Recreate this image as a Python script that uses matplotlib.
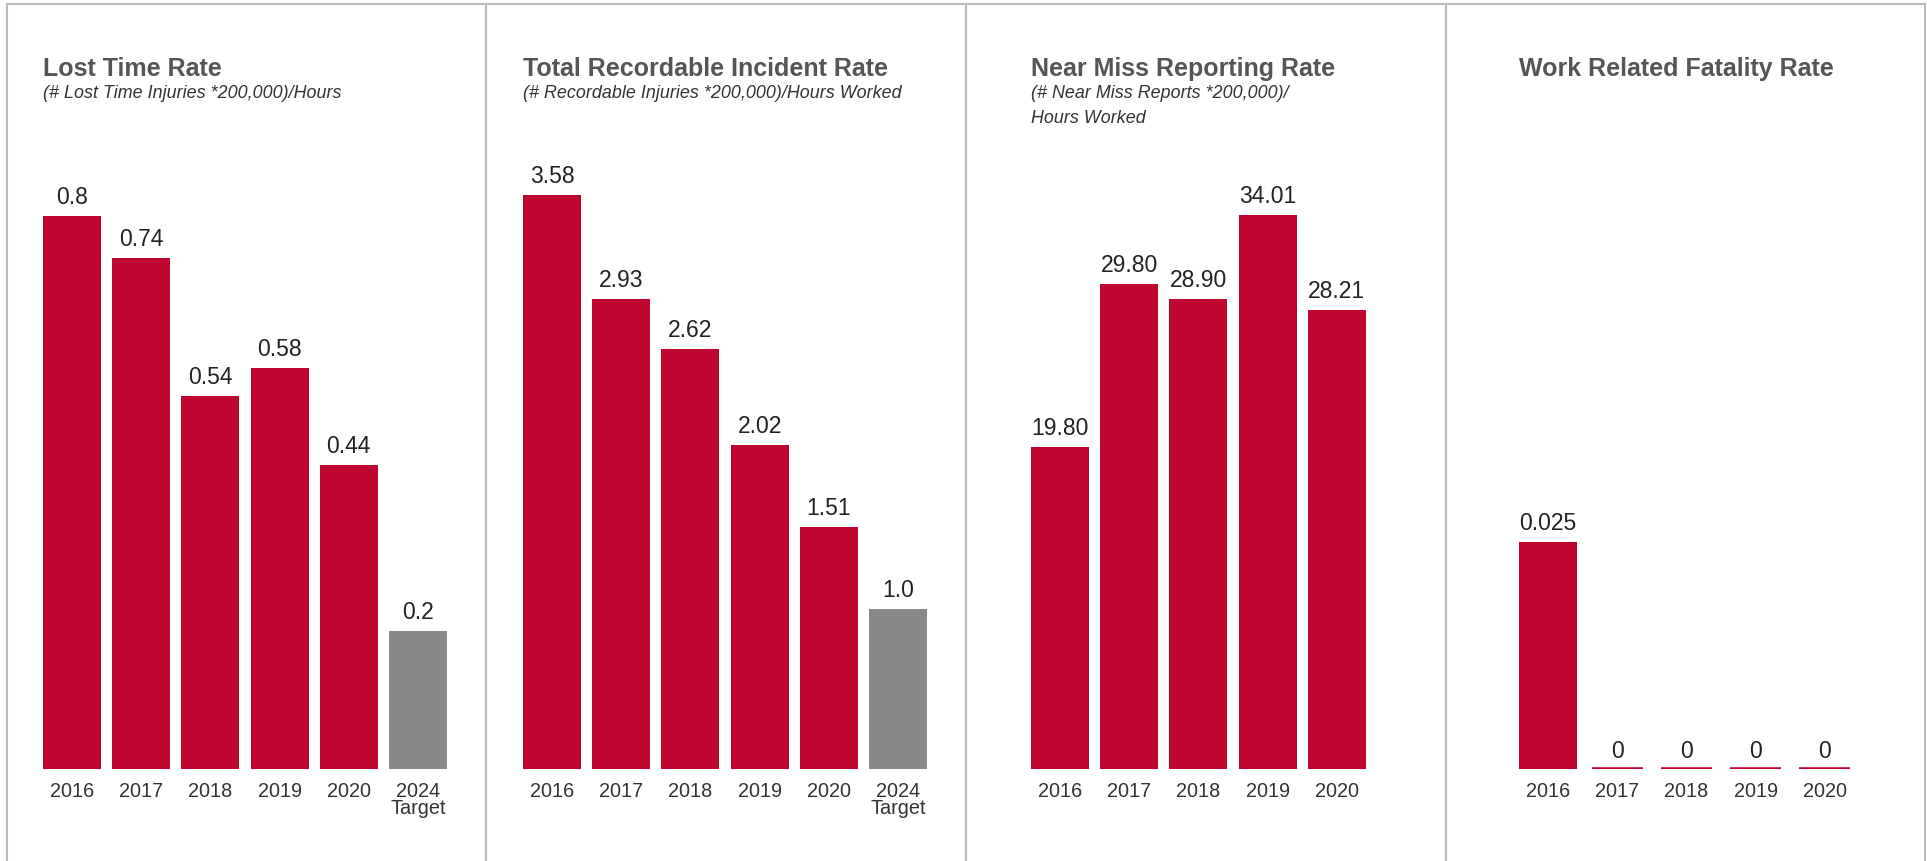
import matplotlib.pyplot as plt
from matplotlib.lines import Line2D

plt.rcParams['font.family'] = ['Liberation Sans', 'DejaVu Sans']

W, H = 1927, 861

titles = ['Lost Time Rate', 'Total Recordable Incident Rate',
          'Near Miss Reporting Rate', 'Work Related Fatality Rate']
subtitles = ['(# Lost Time Injuries *200,000)/Hours',
             '(# Recordable Injuries *200,000)/Hours Worked',
             '(# Near Miss Reports *200,000)/\nHours Worked',
             '']

years_target = ['2016', '2017', '2018', '2019', '2020', '2024\nTarget']
years = ['2016', '2017', '2018', '2019', '2020']

lost_time = [0.8, 0.74, 0.54, 0.58, 0.44, 0.2]
lost_time_lbl = ['0.8', '0.74', '0.54', '0.58', '0.44', '0.2']
trir = [3.58, 2.93, 2.62, 2.02, 1.51, 1.0]
trir_lbl = ['3.58', '2.93', '2.62', '2.02', '1.51', '1.0']
near_miss = [19.80, 29.80, 28.90, 34.01, 28.21]
near_miss_lbl = ['19.80', '29.80', '28.90', '34.01', '28.21']
fatality = [0.025, 0, 0, 0, 0]
fatality_lbl = ['0.025', '0', '0', '0', '0']

RED = '#BF0630'
GREY = '#888888'

panels = [
    (years_target, lost_time, lost_time_lbl, True),
    (years_target, trir, trir_lbl, True),
    (years, near_miss, near_miss_lbl, False),
    (years, fatality, fatality_lbl, False),
]

# layout (pixels)
first_centre = [72, 552, 1060, 1548]
ylims = [0.968, 4.17, 41.1, 0.0737]
step = 69.2
ax_top, ax_bot = 100, 769

fig = plt.figure(figsize=(W / 100, H / 100), dpi=100)
fig.patch.set_facecolor('white')

for i, (cats, vals, lbls, has_target) in enumerate(panels):
    x0 = first_centre[i] - step / 2
    ax = fig.add_axes([x0 / W, (H - ax_bot) / H, 6 * step / W, (ax_bot - ax_top) / H])
    colors = [RED] * len(vals)
    if has_target:
        colors[-1] = GREY
    xs = range(len(vals))
    bars = ax.bar(xs, vals, width=0.84, color=colors)
    # zero values drawn as a thin red rule
    for b, v, c in zip(bars, vals, colors):
        if v == 0:
            b.set_edgecolor(c)
            b.set_linewidth(2.6)
            b.set_width(0.74)
            b.set_x(b.get_x() + 0.05)
    for x, v, t in zip(xs, vals, lbls):
        ax.annotate(t, (x, v), xytext=(0, 5 if v else 4), textcoords='offset points',
                    ha='center', va='bottom', fontsize=16.5, color='#222222')
    ax.set_xlim(-0.5, 5.5)
    ax.set_ylim(0, ylims[i])
    ax.set_xticks(list(xs))
    ax.set_xticklabels(cats, fontsize=14.3, color='#333333')
    for lab in ax.get_xticklabels():
        lab.set_linespacing(0.85)
    ax.tick_params(axis='x', length=0, pad=9.5)
    ax.set_yticks([])
    for s in ax.spines.values():
        s.set_visible(False)

    tx = (first_centre[i] - 29) / W
    fig.text(tx, 1 - 76 / H, titles[i], fontsize=18, fontweight='bold',
             color='#555555', va='baseline')
    for k, line in enumerate(subtitles[i].split('\n')):
        if line:
            fig.text(tx, 1 - (98 + 25 * k) / H, line, fontsize=12.9, style='italic',
                     color='#333333', va='baseline')

# panel frame
border = '#BBBBBB'
fig.add_artist(Line2D([7 / W, 1925 / W], [1 - 4 / H, 1 - 4 / H], color=border, lw=1.5))
for xp in [7, 486, 966, 1446, 1925]:
    fig.add_artist(Line2D([xp / W, xp / W], [0, 1 - 4 / H], color=border, lw=1.5))

fig.savefig('out.png', dpi=100, facecolor='white')
